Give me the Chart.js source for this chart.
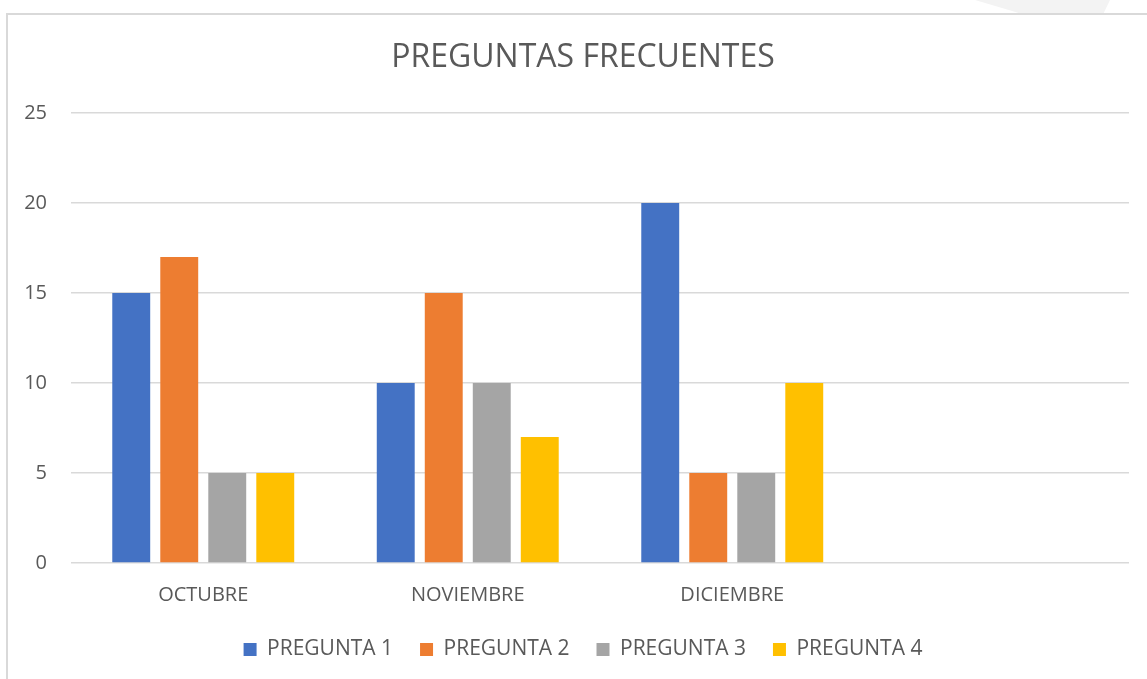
<!DOCTYPE html>
<html>
<head>
<meta charset="utf-8">
<script src="https://cdn.jsdelivr.net/npm/chart.js@4/dist/chart.umd.min.js"></script>
<style>
  html, body { margin: 0; padding: 0; background: #fff; overflow: hidden; }
  body { width: 1147px; height: 679px; position: relative; }
  #frame {
    position: absolute; left: 6px; top: 13px; width: 1300px; height: 800px;
    border-left: 2px solid #d9d9d9; border-top: 2px solid #d9d9d9;
  }
  #mark {
    position: absolute; left: 975px; top: 0; width: 135px; height: 14px;
    background: #f3f3f3; clip-path: polygon(0 0, 100% 0, 95% 100%, 35% 100%);
  }
  #wrap { position: absolute; left: 0; top: 0; }
</style>
</head>
<body>
<div id="mark"></div>
<div id="frame"></div>
<div id="wrap"><canvas id="chart" width="1166" height="679"></canvas></div>
<script>
// Datos del gráfico
const meses = ['OCTUBRE', 'NOVIEMBRE', 'DICIEMBRE', ''];
const pregunta1 = [15, 10, 20, null];
const pregunta2 = [17, 15, 5, null];
const pregunta3 = [5, 10, 5, null];
const pregunta4 = [5, 7, 10, null];
const series = ['PREGUNTA 1', 'PREGUNTA 2', 'PREGUNTA 3', 'PREGUNTA 4'];
const colores = ['#4472C4', '#ED7D31', '#A5A5A5', '#FFC000'];

const textColor = '#595959';
const font = 'Open Sans';

const data = {
  labels: meses,
  datasets: [pregunta1, pregunta2, pregunta3, pregunta4].map((vals, i) => ({
    label: series[i],
    data: vals,
    backgroundColor: colores[i],
    borderWidth: 0,
    categoryPercentage: 0.726,
    barPercentage: 0.79
  }))
};

const config = {
  type: 'bar',
  data: data,
  options: {
    responsive: false,
    animation: false,
    layout: { padding: { left: 0, right: 0, top: 0, bottom: 9 } },
    plugins: {
      title: {
        display: true,
        text: 'PREGUNTAS FRECUENTES',
        color: textColor,
        font: { family: font, size: 32, weight: 'normal' },
        padding: { top: 39, bottom: 35.6 }
      },
      legend: {
        position: 'bottom',
        labels: {
          color: textColor,
          font: { family: font, size: 21 },
          boxWidth: 13,
          boxHeight: 13,
          padding: 27
        }
      },
      tooltip: { enabled: false }
    },
    scales: {
      x: {
        grid: { display: false },
        border: { display: false },
        ticks: { color: textColor, font: { family: font, size: 20 }, padding: 12 },
        afterFit: s => { s.height = 49; }
      },
      y: {
        min: 0,
        max: 25,
        ticks: { stepSize: 5, color: textColor, font: { family: font, size: 20 }, padding: 24 },
        grid: { color: '#d9d9d9', lineWidth: 1.5, drawTicks: false },
        border: { display: false },
        afterFit: s => { s.width = 71; }
      },
      y2: {
        position: 'right',
        display: true,
        grid: { display: false },
        border: { display: false },
        ticks: { display: false },
        afterFit: s => { s.width = 37; }
      }
    }
  }
};

const chart = new Chart(document.getElementById('chart'), config);
</script>
</body>
</html>
